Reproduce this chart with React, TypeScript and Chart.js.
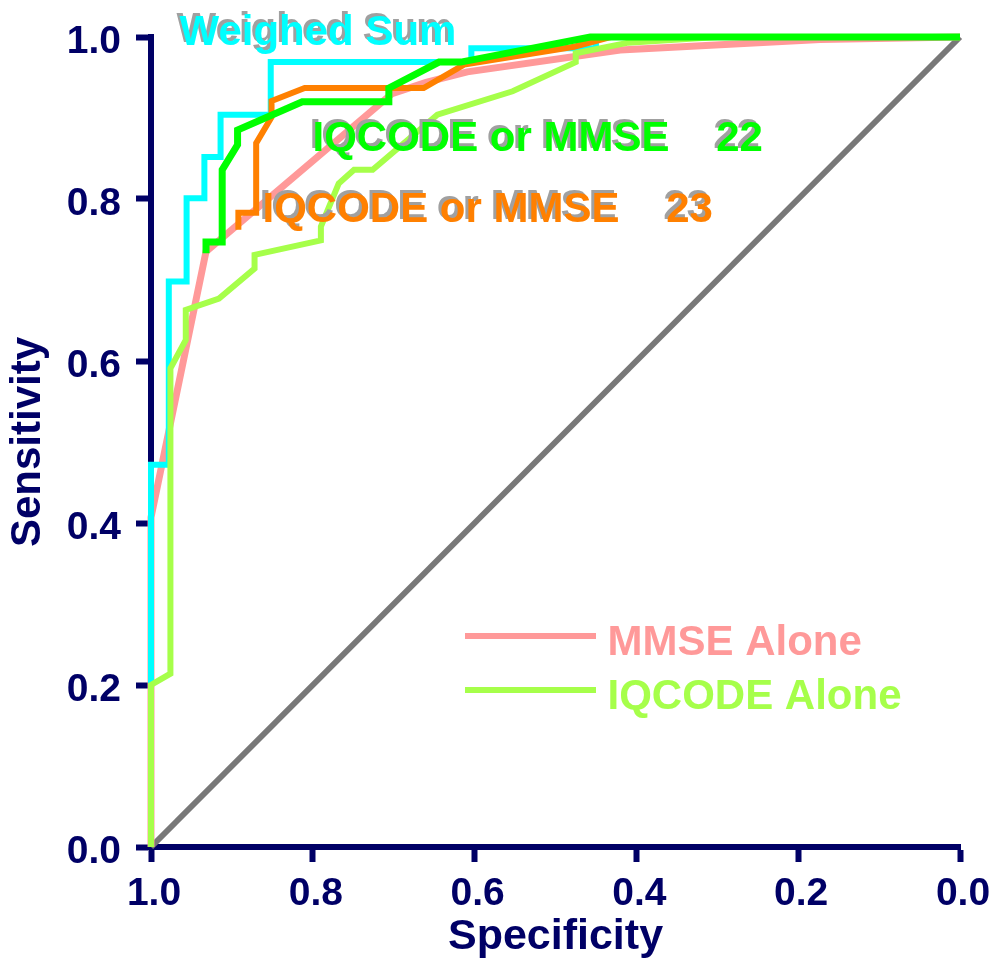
import React, { useEffect, useRef } from "react";
import { Chart, registerables } from "chart.js";

Chart.register(...registerables);

// ---------- data (specificity on x, sensitivity on y) ----------
const chanceSpec = [1.0, 0.0];
const chanceSens = [0.0, 1.0];

const weighedSpec = [1.0, 1.0, 0.978, 0.978, 0.956, 0.956, 0.934, 0.934, 0.914, 0.914, 0.852, 0.852, 0.604, 0.604, 0.45, 0.45, 0.0];
const weighedSens = [0.0, 0.472, 0.472, 0.698, 0.698, 0.801, 0.801, 0.852, 0.852, 0.904, 0.904, 0.969, 0.969, 0.986, 0.986, 1.0, 1.0];

const mmseSpec = [1.0, 1.0, 0.932, 0.702, 0.66, 0.609, 0.42, 0.173, 0.0];
const mmseSens = [0.0, 0.407, 0.735, 0.93, 0.944, 0.957, 0.984, 0.997, 1.0];

const iqcodeSpec = [1.0, 1.0, 0.976, 0.976, 0.957, 0.957, 0.916, 0.872, 0.872, 0.79, 0.79, 0.768, 0.749, 0.726, 0.646, 0.553, 0.475, 0.475, 0.41, 0.3, 0.0];
const iqcodeSens = [0.0, 0.2, 0.214, 0.591, 0.626, 0.663, 0.677, 0.714, 0.731, 0.749, 0.766, 0.819, 0.836, 0.836, 0.904, 0.933, 0.969, 0.98, 0.993, 1.0, 1.0];

const or22Spec = [0.932, 0.932, 0.912, 0.912, 0.893, 0.893, 0.813, 0.706, 0.706, 0.644, 0.617, 0.457, 0.0];
const or22Sens = [0.733, 0.747, 0.747, 0.836, 0.867, 0.885, 0.92, 0.92, 0.937, 0.969, 0.969, 1.0, 1.0];

const or23Spec = [0.892, 0.892, 0.87, 0.87, 0.851, 0.851, 0.81, 0.663, 0.613, 0.477, 0.432, 0.0];
const or23Sens = [0.762, 0.783, 0.783, 0.869, 0.901, 0.921, 0.937, 0.937, 0.966, 0.988, 1.0, 1.0];

const axisTickStep = 0.2;
const xTitle = "Specificity";
const yTitle = "Sensitivity";

const seriesLabels = {
  weighed: "Weighed Sum",
  or22: "IQCODE or MMSE    22",
  or23: "IQCODE or MMSE    23",
  mmse: "MMSE Alone",
  iqcode: "IQCODE Alone",
};

// ---------- styles ----------
const NAVY = "#000066";
const FONT = "'Liberation Sans', Arial, Helvetica, sans-serif";
const COLORS = {
  chance: "#787878",
  weighed: "#00FFFF",
  or22: "#00FF00",
  or23: "#FF8000",
  mmse: "#FF9999",
  iqcode: "#A6FF4A",
  shadow: "#A0A0A0",
};

const pts = (xs: number[], ys: number[]) => xs.map((x, i) => ({ x, y: ys[i] }));

// in-plot text labels (pixel anchors for the left/baseline of the text)
const annotationStyle = [
  { key: "weighed", x: 179.5, y: 45 },
  { key: "or22", x: 312.5, y: 151 },
  { key: "or23", x: 262.5, y: 222 },
];
const legendStyle = { x1: 465, x2: 596, textX: 607.5, rows: [636, 690], textDy: 19, lineWidth: 6 };

const overlayPlugin = {
  id: "roc-overlay",
  afterDraw(chart: any) {
    const ctx = chart.ctx as CanvasRenderingContext2D;
    ctx.save();
    ctx.font = `bold 42px ${FONT}`;
    ctx.textAlign = "left";
    ctx.textBaseline = "alphabetic";
    // shadowed curve labels
    annotationStyle.forEach((a) => {
      const text = (seriesLabels as any)[a.key];
      ctx.fillStyle = COLORS.shadow;
      ctx.fillText(text, a.x - 3, a.y - 3);
      ctx.fillStyle = (COLORS as any)[a.key];
      ctx.fillText(text, a.x, a.y);
    });
    // legend for the single-test curves
    const legendKeys = ["mmse", "iqcode"];
    legendKeys.forEach((k, i) => {
      const y = legendStyle.rows[i];
      ctx.strokeStyle = (COLORS as any)[k];
      ctx.lineWidth = legendStyle.lineWidth;
      ctx.lineCap = "butt";
      ctx.beginPath();
      ctx.moveTo(legendStyle.x1, y);
      ctx.lineTo(legendStyle.x2, y);
      ctx.stroke();
      ctx.fillStyle = (COLORS as any)[k];
      ctx.fillText((seriesLabels as any)[k], legendStyle.textX, y + legendStyle.textDy);
    });
    ctx.restore();
  },
};

export default function App() {
  const canvasRef = useRef<HTMLCanvasElement | null>(null);

  useEffect(() => {
    if (!canvasRef.current) return;
    const line = (label: string, data: any[], color: string, width: number, order: number) => ({
      label,
      data,
      borderColor: color,
      backgroundColor: color,
      borderWidth: width,
      pointRadius: 0,
      pointHoverRadius: 0,
      fill: false,
      tension: 0,
      borderJoinStyle: "miter" as const,
      borderCapStyle: "butt" as const,
      clip: false as any,
      order,
    });

    const chart = new Chart(canvasRef.current, {
      type: "line",
      data: {
        datasets: [
          line(seriesLabels.or22, pts(or22Spec, or22Sens), COLORS.or22, 7, 1),
          line(seriesLabels.or23, pts(or23Spec, or23Sens), COLORS.or23, 6, 2),
          line(seriesLabels.iqcode, pts(iqcodeSpec, iqcodeSens), COLORS.iqcode, 6, 3),
          line(seriesLabels.weighed, pts(weighedSpec, weighedSens), COLORS.weighed, 6, 4),
          line(seriesLabels.mmse, pts(mmseSpec, mmseSens), COLORS.mmse, 7, 5),
          line("Chance", pts(chanceSpec, chanceSens), COLORS.chance, 6, 6),
        ],
      },
      options: {
        animation: false,
        responsive: false,
        devicePixelRatio: 1,
        events: [],
        layout: { padding: { top: 37, right: 37, left: 0, bottom: 0 } },
        plugins: {
          legend: { display: false },
          tooltip: { enabled: false },
          title: { display: false },
        },
        scales: {
          x: {
            type: "linear",
            reverse: true,
            min: 0,
            max: 1,
            afterFit: (scale: any) => {
              scale.height = 113;
              scale.paddingLeft = 0;
              scale.paddingRight = 0;
            },
            grid: {
              display: true,
              drawOnChartArea: false,
              drawTicks: true,
              tickLength: 15,
              tickWidth: 6,
              tickColor: NAVY,
            },
            border: { display: true, color: NAVY, width: 6 },
            ticks: {
              stepSize: axisTickStep,
              autoSkip: false,
              maxRotation: 0,
              minRotation: 0,
              padding: 13,
              labelOffset: 3,
              color: NAVY,
              font: { family: FONT, size: 39, weight: "bold", lineHeight: 1 },
              callback: (v: any) => Number(v).toFixed(1),
            },
            title: {
              display: true,
              text: xTitle,
              color: NAVY,
              font: { family: FONT, size: 43, weight: "bold", lineHeight: 1 },
              padding: { top: 0, bottom: 1 },
            },
          },
          y: {
            type: "linear",
            min: 0,
            max: 1,
            afterFit: (scale: any) => {
              scale.width = 151;
              scale.paddingTop = 0;
              scale.paddingBottom = 0;
            },
            grid: {
              display: true,
              drawOnChartArea: false,
              drawTicks: true,
              tickLength: 15,
              tickWidth: 6,
              tickColor: NAVY,
            },
            border: { display: true, color: NAVY, width: 6 },
            ticks: {
              stepSize: axisTickStep,
              padding: 15,
              labelOffset: 5,
              color: NAVY,
              font: { family: FONT, size: 39, weight: "bold", lineHeight: 1 },
              callback: (v: any) => Number(v).toFixed(1),
            },
            title: {
              display: true,
              text: yTitle,
              color: NAVY,
              font: { family: FONT, size: 42, weight: "bold", lineHeight: 1 },
              padding: { top: 7, bottom: 0 },
            },
          },
        },
      } as any,
      plugins: [overlayPlugin],
    });

    return () => chart.destroy();
  }, []);

  return (
    <div style={{ position: "absolute", left: 0, top: 0, width: 997, height: 960, background: "#FFFFFF" }}>
      <canvas ref={canvasRef} width={997} height={960} style={{ display: "block", width: 997, height: 960 }} />
    </div>
  );
}
